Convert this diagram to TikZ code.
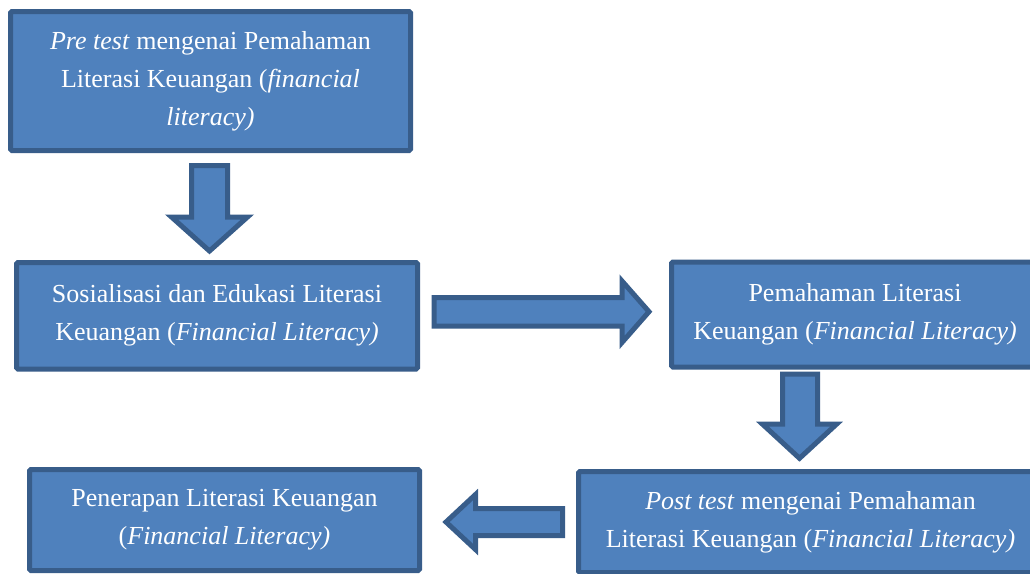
\documentclass[tikz,border=0pt]{standalone}
\usepackage{fontspec}
\setmainfont{Liberation Serif}
\definecolor{boxfill}{HTML}{4F81BD}
\definecolor{boxline}{HTML}{385D8A}
\tikzset{
  flowbox/.style={draw=boxline, fill=boxfill, line width=5pt, rounded corners=1.5pt,
    text=white, align=center, inner sep=0pt,
    font=\fontsize{26}{38}\selectfont},
  blockarrow/.style={draw=boxline, fill=boxfill, line width=5pt, line join=miter}
}
\begin{document}
\begin{tikzpicture}[x=1pt,y=-1pt]
\useasboundingbox (0,0) rectangle (1030,573);
\clip (0,0) rectangle (1030,573);
\fill[white] (0,0) rectangle (1030,573);

\node[flowbox, minimum width=400pt, minimum height=139pt] (b1) at (210.5,81)
  {\textit{Pre test} mengenai Pemahaman\\Literasi Keuangan (\textit{financial}\\\textit{literacy)}};
\node[flowbox, minimum width=401pt, minimum height=106.5pt] (b2) at (217,315.75)
  {Sosialisasi dan Edukasi Literasi\\Keuangan (\textit{Financial Literacy)}};
\node[flowbox, minimum width=367pt, minimum height=105pt] (b3) at (855,314.5)
  {Pemahaman Literasi\\Keuangan (\textit{Financial Literacy)}};
\node[flowbox, minimum width=464pt, minimum height=101pt] (b4) at (810.5,522)
  {\textit{Post test} mengenai Pemahaman\\Literasi Keuangan (\textit{Financial Literacy)}};
\node[flowbox, minimum width=390pt, minimum height=101pt] (b5) at (224.5,520)
  {Penerapan Literasi Keuangan\\(\textit{Financial Literacy)}};

% b1 -> b2
\draw[blockarrow] (191.5,165.5) -- (227.5,165.5) -- (227.5,217) -- (247.5,217)
  -- (209.5,251) -- (171.5,217) -- (191.5,217) -- cycle;
% b2 -> b3
\draw[blockarrow] (434,297.5) -- (622,297.5) -- (622,281) -- (649,311.7)
  -- (622,342.5) -- (622,326) -- (434,326) -- cycle;
% b3 -> b4
\draw[blockarrow] (782.5,374.2) -- (817.5,374.2) -- (817.5,424.2) -- (836.5,424.2)
  -- (799.5,458.3) -- (762.5,424.2) -- (782.5,424.2) -- cycle;
% b4 -> b5
\draw[blockarrow] (562.5,508.5) -- (475.5,508.5) -- (475.5,494.5) -- (446,522)
  -- (475.5,549.5) -- (475.5,535.5) -- (562.5,535.5) -- cycle;
\end{tikzpicture}
\end{document}
